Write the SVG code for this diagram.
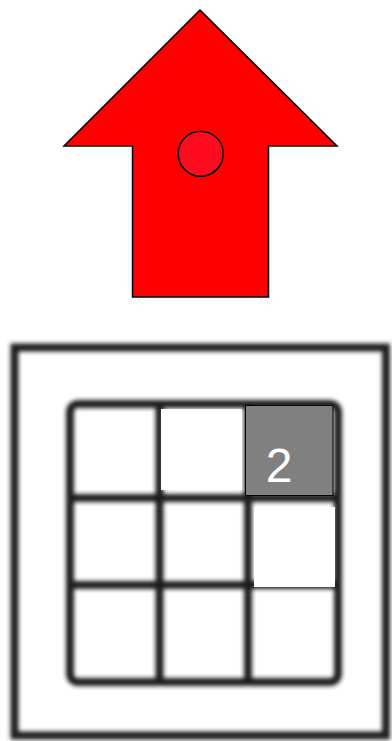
<svg xmlns="http://www.w3.org/2000/svg" width="392" height="741" viewBox="0 0 392 741">
<defs>
<style>
.ln{fill:none;stroke:#1e1e1e;stroke-width:8}
.cell{fill:#fff}
</style>
<filter id="blur" x="-5%" y="-5%" width="110%" height="110%"><feGaussianBlur stdDeviation="1.9"/></filter>
</defs>
<rect width="392" height="741" fill="#fff"/>
<g id="arrow">
<polygon points="200,10 337,146 268.5,146 268.5,297 132.5,297 132.5,146 64,146" fill="#ff0000" stroke="#000" stroke-width="1.5"/>
<circle cx="200.7" cy="153.7" r="22.5" fill="#ff0a1e" stroke="#000" stroke-width="1.5"/>
</g>
<g id="board">
<g filter="url(#blur)">
<rect x="14.5" y="347.5" width="371.5" height="388" class="ln" stroke-width="8"/>
<rect x="70" y="404" width="268" height="278" rx="8" class="ln"/>
<line x1="159.5" y1="404" x2="159.5" y2="682" class="ln"/>
<line x1="248" y1="404" x2="248" y2="682" class="ln"/>
<line x1="70" y1="498" x2="338" y2="498" class="ln"/>
<line x1="70" y1="585" x2="338" y2="585" class="ln"/>
</g>
<rect id="cell-empty-1" x="161" y="409" width="81" height="81" class="cell"/>
<rect id="cell-empty-2" x="254" y="507" width="81" height="80" class="cell"/>
<g id="cell-2">
<rect x="245.5" y="405.5" width="87.5" height="90" fill="#808080" stroke="#000" stroke-width="1"/>
<text x="279" y="482" font-family="Liberation Sans, Arial, sans-serif" font-size="48" fill="#fff" text-anchor="middle">2</text>
</g>
</g>
</svg>
